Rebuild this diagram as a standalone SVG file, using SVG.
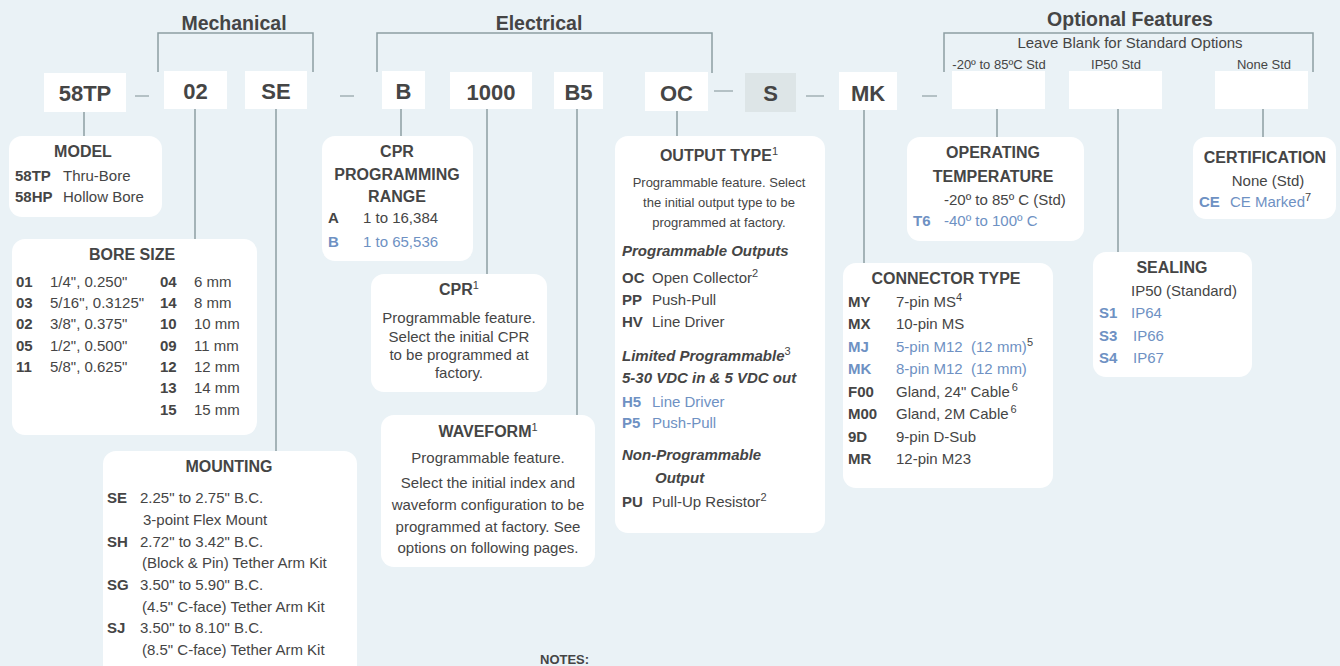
<svg xmlns="http://www.w3.org/2000/svg" width="1340" height="666" viewBox="0 0 1340 666">
<style>
text{font-family:"Liberation Sans",Arial,sans-serif;fill:#454545}
.code{font-size:22px;font-weight:bold;text-anchor:middle}
.hdr{font-size:19.5px;font-weight:bold;text-anchor:middle}
.sm{font-size:13px}
.t{font-size:15px}
.d{font-size:13px}
.ttl{font-size:16px;font-weight:bold}
.b{font-weight:bold}
.bi{font-weight:bold;font-style:italic}
.c{text-anchor:middle}
.blue{fill:#6e91c3}
.box{fill:#ffffff}
.gbox{fill:#dde5e7}
.card{fill:#ffffff}
.ln{stroke:#8d9ea3;stroke-width:1.5;fill:none}
.dash{stroke:#a3b1b5;stroke-width:1.6}
</style>
<rect width="1340" height="666" fill="#eaf2f6"/>

<g id="connectors">
<path class="ln" d="M158 72V33H313V72"/>
<path class="ln" d="M377 72V33H712V73"/>
<path class="ln" d="M944 72V33H1313V72"/>
<path class="ln" d="M84 112V136M195 109V239M276 109V451M401 109V136M487 109V274M577 109V415M677 111V136M864 110V263M997 109V137M1118 109V252M1263 109V137"/>
<path class="dash" d="M135 96H149M340 96H354M714 91H733M806 96H824M922 96H937"/>
</g>

<g id="headers">
<text class="hdr" x="234" y="30">Mechanical</text>
<text class="hdr" x="539" y="30">Electrical</text>
<text class="hdr" x="1130" y="26">Optional Features</text>
<text class="t c" x="1130" y="48">Leave Blank for Standard Options</text>
<text class="sm c" x="999" y="69">-20º to 85ºC Std</text>
<text class="sm c" x="1116" y="69">IP50 Std</text>
<text class="sm c" x="1264" y="69">None Std</text>
</g>

<g id="code-58TP"><rect class="box" x="44" y="73" width="82" height="39"/><text class="code" x="85" y="101">58TP</text></g>
<g id="code-02"><rect class="box" x="164" y="71" width="63" height="38"/><text class="code" x="195.5" y="99">02</text></g>
<g id="code-SE"><rect class="box" x="245" y="71" width="62" height="38"/><text class="code" x="276" y="99">SE</text></g>
<g id="code-B"><rect class="box" x="382" y="71" width="43" height="38"/><text class="code" x="403.5" y="99">B</text></g>
<g id="code-1000"><rect class="box" x="450" y="72" width="82" height="37"/><text class="code" x="491" y="100">1000</text></g>
<g id="code-B5"><rect class="box" x="554" y="72" width="49" height="37"/><text class="code" x="578.5" y="100">B5</text></g>
<g id="code-OC"><rect class="box" x="645" y="72" width="63" height="39"/><text class="code" x="676.5" y="101">OC</text></g>
<g id="code-S"><rect class="gbox" x="745" y="73" width="51" height="39"/><text class="code" x="770.5" y="101">S</text></g>
<g id="code-MK"><rect class="box" x="839" y="72" width="58" height="38"/><text class="code" x="868" y="101">MK</text></g>
<g id="code-temp"><rect class="box" x="952" y="71" width="93" height="38"/></g>
<g id="code-seal"><rect class="box" x="1069" y="71" width="93" height="38"/></g>
<g id="code-cert"><rect class="box" x="1215" y="71" width="93" height="38"/></g>

<g id="model">
<rect class="card" x="9" y="136" width="153" height="81" rx="13"/>
<text class="ttl c" x="83" y="157">MODEL</text>
<text class="t" x="15" y="181"><tspan class="b">58TP</tspan></text><text class="t" x="63" y="181">Thru-Bore</text>
<text class="t" x="15" y="202"><tspan class="b">58HP</tspan></text><text class="t" x="63" y="202">Hollow Bore</text>
</g>

<g id="bore-size">
<rect class="card" x="12" y="239" width="245" height="196" rx="13"/>
<text class="ttl c" x="132" y="260">BORE SIZE</text>
<g class="t">
<text class="t b" x="16" y="287">01</text><text class="t" x="50" y="287">1/4", 0.250"</text>
<text class="t b" x="16" y="308">03</text><text class="t" x="50" y="308">5/16", 0.3125"</text>
<text class="t b" x="16" y="329">02</text><text class="t" x="50" y="329">3/8", 0.375"</text>
<text class="t b" x="16" y="351">05</text><text class="t" x="50" y="351">1/2", 0.500"</text>
<text class="t b" x="16" y="372">11</text><text class="t" x="50" y="372">5/8", 0.625"</text>
<text class="t b" x="160" y="287">04</text><text class="t" x="194" y="287">6 mm</text>
<text class="t b" x="160" y="308">14</text><text class="t" x="194" y="308">8 mm</text>
<text class="t b" x="160" y="329">10</text><text class="t" x="194" y="329">10 mm</text>
<text class="t b" x="160" y="351">09</text><text class="t" x="194" y="351">11 mm</text>
<text class="t b" x="160" y="372">12</text><text class="t" x="194" y="372">12 mm</text>
<text class="t b" x="160" y="393">13</text><text class="t" x="194" y="393">14 mm</text>
<text class="t b" x="160" y="415">15</text><text class="t" x="194" y="415">15 mm</text>
</g>
</g>

<g id="mounting">
<rect class="card" x="103" y="451" width="254" height="240" rx="13"/>
<text class="ttl c" x="229" y="472">MOUNTING</text>
<text class="t b" x="107" y="503">SE</text><text class="t" x="140" y="503">2.25" to 2.75" B.C.</text>
<text class="t" x="143" y="525">3-point Flex Mount</text>
<text class="t b" x="107" y="547">SH</text><text class="t" x="140" y="547">2.72" to 3.42" B.C.</text>
<text class="t" x="142" y="568">(Block &amp; Pin) Tether Arm Kit</text>
<text class="t b" x="107" y="590">SG</text><text class="t" x="140" y="590">3.50" to 5.90" B.C.</text>
<text class="t" x="142" y="612">(4.5" C-face) Tether Arm Kit</text>
<text class="t b" x="107" y="633">SJ</text><text class="t" x="140" y="633">3.50" to 8.10" B.C.</text>
<text class="t" x="142" y="655">(8.5" C-face) Tether Arm Kit</text>
</g>

<g id="cpr-range">
<rect class="card" x="322" y="136" width="151" height="125" rx="13"/>
<text class="ttl c" x="397" y="157">CPR</text>
<text class="ttl c" x="397" y="180">PROGRAMMING</text>
<text class="ttl c" x="397" y="202">RANGE</text>
<text class="t b" x="328" y="223">A</text><text class="t" x="363" y="223">1 to 16,384</text>
<text class="t b blue" x="328" y="247">B</text><text class="t blue" x="363" y="247">1 to 65,536</text>
</g>

<g id="cpr">
<rect class="card" x="371" y="274" width="176" height="118" rx="13"/>
<text class="ttl c" x="459" y="295">CPR<tspan font-size="11" font-weight="normal" dy="-6">1</tspan></text>
<text class="t c" x="459" y="323">Programmable feature.</text>
<text class="t c" x="459" y="342">Select the initial CPR</text>
<text class="t c" x="459" y="360">to be programmed at</text>
<text class="t c" x="459" y="378">factory.</text>
</g>

<g id="waveform">
<rect class="card" x="381" y="415" width="214" height="152" rx="13"/>
<text class="ttl c" x="488" y="437">WAVEFORM<tspan font-size="11" font-weight="normal" dy="-6">1</tspan></text>
<text class="t c" x="488" y="463">Programmable feature.</text>
<text class="t c" x="488" y="488">Select the initial index and</text>
<text class="t c" x="488" y="510">waveform configuration to be</text>
<text class="t c" x="488" y="532">programmed at factory. See</text>
<text class="t c" x="488" y="553">options on following pages.</text>
</g>

<g id="output-type">
<rect class="card" x="615" y="136" width="210" height="397" rx="13"/>
<text class="ttl c" x="719" y="161">OUTPUT TYPE<tspan font-size="11" font-weight="normal" dy="-6">1</tspan></text>
<text class="d c" x="719" y="187">Programmable feature. Select</text>
<text class="d c" x="719" y="207">the initial output type to be</text>
<text class="d c" x="719" y="227">programmed at factory.</text>
<text class="t bi" x="622" y="256">Programmable Outputs</text>
<text class="t b" x="622" y="283">OC</text><text class="t" x="652" y="283">Open Collector<tspan font-size="11" dy="-6">2</tspan></text>
<text class="t b" x="622" y="305">PP</text><text class="t" x="652" y="305">Push-Pull</text>
<text class="t b" x="622" y="327">HV</text><text class="t" x="652" y="327">Line Driver</text>
<text class="t bi" x="622" y="361">Limited Programmable<tspan font-size="11" font-weight="normal" font-style="normal" dy="-6">3</tspan></text>
<text class="t bi" x="622" y="383">5-30 VDC in &amp; 5 VDC out</text>
<text class="t b blue" x="622" y="407">H5</text><text class="t blue" x="652" y="407">Line Driver</text>
<text class="t b blue" x="622" y="428">P5</text><text class="t blue" x="652" y="428">Push-Pull</text>
<text class="t bi" x="622" y="460">Non-Programmable</text>
<text class="t bi" x="655" y="483">Output</text>
<text class="t b" x="622" y="507">PU</text><text class="t" x="652" y="507">Pull-Up Resistor<tspan font-size="11" dy="-6">2</tspan></text>
</g>

<g id="connector-type">
<rect class="card" x="843" y="263" width="210" height="225" rx="13"/>
<text class="ttl c" x="946" y="284">CONNECTOR TYPE</text>
<text class="t b" x="848" y="307">MY</text><text class="t" x="896" y="307">7-pin MS<tspan font-size="11" dy="-6">4</tspan></text>
<text class="t b" x="848" y="329">MX</text><text class="t" x="896" y="329">10-pin MS</text>
<text class="t b blue" x="848" y="352">MJ</text><text class="t" x="896" y="352" xml:space="preserve"><tspan class="blue">5-pin M12  (12 mm)</tspan><tspan font-size="11" dy="-6">5</tspan></text>
<text class="t b blue" x="848" y="374">MK</text><text class="t blue" x="896" y="374" xml:space="preserve">8-pin M12  (12 mm)</text>
<text class="t b" x="848" y="397">F00</text><text class="t" x="896" y="397">Gland, 24" Cable<tspan font-size="11" dx="2" dy="-6">6</tspan></text>
<text class="t b" x="848" y="419">M00</text><text class="t" x="896" y="419">Gland, 2M Cable<tspan font-size="11" dx="2" dy="-6">6</tspan></text>
<text class="t b" x="848" y="442">9D</text><text class="t" x="896" y="442">9-pin D-Sub</text>
<text class="t b" x="848" y="464">MR</text><text class="t" x="896" y="464">12-pin M23</text>
</g>

<g id="operating-temperature">
<rect class="card" x="907" y="137" width="177" height="104" rx="13"/>
<text class="ttl c" x="993" y="158">OPERATING</text>
<text class="ttl c" x="993" y="182">TEMPERATURE</text>
<text class="t" x="944" y="205">-20º to 85º C (Std)</text>
<text class="t b blue" x="913" y="226">T6</text><text class="t blue" x="944" y="226">-40º to 100º C</text>
</g>

<g id="sealing">
<rect class="card" x="1093" y="252" width="159" height="125" rx="13"/>
<text class="ttl c" x="1172" y="273">SEALING</text>
<text class="t" x="1131" y="296">IP50 (Standard)</text>
<text class="t b blue" x="1099" y="318">S1</text><text class="t blue" x="1131" y="318">IP64</text>
<text class="t b blue" x="1099" y="341">S3</text><text class="t blue" x="1133" y="341">IP66</text>
<text class="t b blue" x="1099" y="363">S4</text><text class="t blue" x="1133" y="363">IP67</text>
</g>

<g id="certification">
<rect class="card" x="1193" y="137" width="143" height="82" rx="13"/>
<text class="ttl c" x="1265" y="163">CERTIFICATION</text>
<text class="t c" x="1268" y="186">None (Std)</text>
<text class="t b blue" x="1199" y="207">CE</text><text class="t" x="1230" y="207"><tspan class="blue">CE Marked</tspan><tspan font-size="11" dy="-6">7</tspan></text>
</g>

<g id="notes">
<text class="b" x="540" y="664" font-size="13">NOTES:</text>
</g>
</svg>
